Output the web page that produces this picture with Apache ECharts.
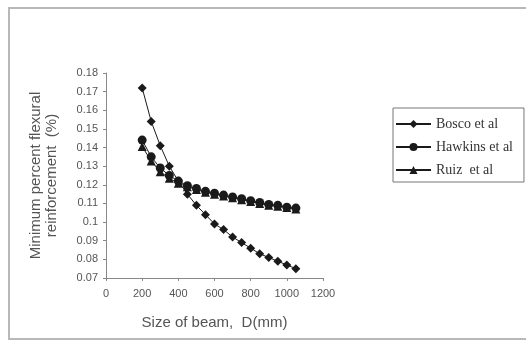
<!DOCTYPE html>
<html><head><meta charset="utf-8">
<script src="https://cdn.jsdelivr.net/npm/echarts@6/dist/echarts.min.js"></script>
<style>html,body{margin:0;padding:0;background:#fff}#c{width:526px;height:342px}</style>
</head><body><div id="c"></div>
<script>
const sizes = [200,250,300,350,400,450,500,550,600,650,700,750,800,850,900,950,1000,1050];
const bosco = [0.172,0.154,0.141,0.130,0.122,0.115,0.109,0.104,0.099,0.096,0.092,0.089,0.086,0.083,0.081,0.079,0.077,0.075];
const hawkins = [0.144,0.135,0.129,0.125,0.122,0.1195,0.118,0.1165,0.1155,0.1145,0.1135,0.1125,0.1115,0.1105,0.1095,0.109,0.108,0.1075];
const ruiz = [0.1405,0.1328,0.127,0.1235,0.1208,0.119,0.1175,0.116,0.115,0.114,0.113,0.112,0.111,0.110,0.109,0.1085,0.1078,0.107];
const seriesNames = ['Bosco et al','Hawkins et al','Ruiz  et al'];
const pair = v => sizes.map((s,i)=>[s,v[i]]);
const chart = echarts.init(document.getElementById('c'));
const col = '#1a1a1a';
const mk = (name, data, sym, size) => ({
  name, type:'line', data: pair(data), symbol: sym, symbolSize: size,
  lineStyle:{color:col,width:1}, itemStyle:{color:col}, animation:false
});
chart.setOption({
  animation:false,
  graphic:[{type:'rect',shape:{x:9,y:8,width:540,height:331},style:{fill:'none',stroke:'#b8b8b8',lineWidth:2}}],
  grid:{left:106,right:203,top:73,bottom:64},
  legend:{
    orient:'vertical', left:393, top:108, itemGap:9, itemWidth:35, itemHeight:10,
    data:seriesNames,
    borderColor:'#777', borderWidth:1, padding:[9,11,5,2],
    textStyle:{fontFamily:'Liberation Serif',fontSize:14,color:'#333'}
  },
  xAxis:{type:'value',min:0,max:1200,interval:200,
    name:'Size of beam,  D(mm)',nameLocation:'middle',nameGap:37,
    nameTextStyle:{fontFamily:'Liberation Sans',fontSize:15,color:'#555'},
    axisLine:{lineStyle:{color:'#888'}},axisTick:{show:true,length:3,lineStyle:{color:'#888'}},
    axisLabel:{fontFamily:'Liberation Sans',fontSize:11,color:'#555',margin:10,formatter:v=>String(v)},
    splitLine:{show:false}},
  yAxis:{type:'value',min:0.07,max:0.18,interval:0.01,
    name:'Minimum percent flexural\nreinforcement  (%)',nameLocation:'middle',nameGap:46,nameRotate:90,
    nameTextStyle:{fontFamily:'Liberation Sans',fontSize:15,color:'#555',lineHeight:16},
    axisLine:{show:true,lineStyle:{color:'#888'}},axisTick:{show:true,length:3,lineStyle:{color:'#888'}},
    axisLabel:{fontFamily:'Liberation Sans',fontSize:11,color:'#555',margin:8,
      formatter:v=>String(Math.round(v*100)/100)},
    splitLine:{show:false}},
  series:[
    mk(seriesNames[0], bosco, 'diamond', 9),
    mk(seriesNames[1], hawkins, 'circle', 9),
    mk(seriesNames[2], ruiz, 'triangle', 9)
  ]
});
</script></body></html>
